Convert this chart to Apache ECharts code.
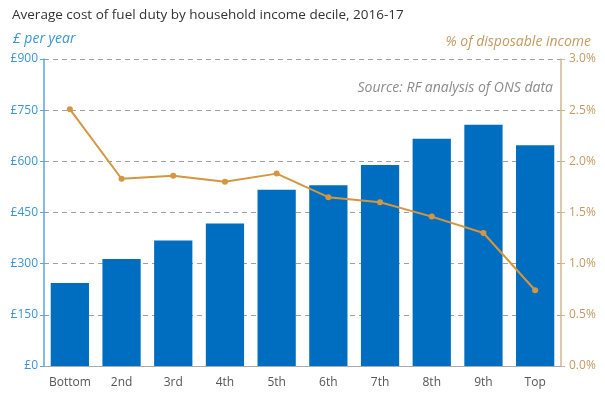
<!DOCTYPE html>
<html>
<head>
<meta charset="utf-8">
<script src="https://cdn.jsdelivr.net/npm/echarts@6/dist/echarts.min.js"></script>
<style>
  html, body { margin: 0; padding: 0; background: #fff; }
  #chart { width: 605px; height: 397px; }
</style>
</head>
<body>
<div id="chart"></div>
<script>
// deciles
const categories = ["Bottom", "2nd", "3rd", "4th", "5th", "6th", "7th", "8th", "9th", "Top"];
// £ per year
const costPerYear = [243, 314, 368, 418, 517, 530, 589, 666, 707, 647];
// % of disposable income
const pctIncome = [2.51, 1.83, 1.86, 1.80, 1.88, 1.65, 1.60, 1.46, 1.30, 0.74];
const leftTicks = [0, 150, 300, 450, 600, 750, 900];

const blue = "#006ec0";
const gold = "#d4963f";
const blueText = "#3c95d6";
const goldText = "#c49a62";
const font = "Open Sans";

const chart = echarts.init(document.getElementById("chart"));

const option = {
  animation: false,
  textStyle: { fontFamily: font },
  title: [
    {
      text: "Average cost of fuel duty by household income decile, 2016-17",
      left: 7, top: 3,
      textStyle: { fontFamily: font, fontSize: 13.5, fontWeight: "normal", color: "#333" }
    },
    {
      text: "£ per year",
      left: 8, top: 27,
      textStyle: { fontFamily: font, fontSize: 14, fontWeight: "normal", fontStyle: "italic", color: blueText }
    },
    {
      text: "% of disposable income",
      right: 9, top: 30,
      textStyle: { fontFamily: font, fontSize: 14, fontWeight: "normal", fontStyle: "italic", color: goldText }
    },
    {
      text: "Source: RF analysis of ONS data",
      right: 47, top: 76,
      textStyle: { fontFamily: font, fontSize: 14, fontWeight: "normal", fontStyle: "italic", color: "#8c8c8c" }
    }
  ],
  grid: { left: 44, right: 44, top: 59, bottom: 31 },
  xAxis: {
    type: "category",
    data: categories,
    axisLine: { lineStyle: { color: "#aaa", width: 1 } },
    axisTick: { show: false },
    axisLabel: { color: "#555", fontSize: 12, margin: 11, interval: 0, fontFamily: font }
  },
  yAxis: [
    {
      type: "value",
      min: leftTicks[0],
      max: leftTicks[leftTicks.length - 1],
      interval: 150,
      axisLine: { show: true, lineStyle: { color: "#5aa6de", width: 1.5 } },
      axisTick: { show: true, length: 4, lineStyle: { color: "#5aa6de" } },
      axisLabel: { color: blueText, fontSize: 12, margin: 6, formatter: v => "£" + v },
      splitLine: { show: true, lineStyle: { color: "#a0a0a0", type: [5, 4], width: 1 } }
    },
    {
      type: "value",
      min: 0,
      max: 3,
      interval: 0.5,
      axisLine: { show: true, lineStyle: { color: "#d2b68c", width: 1.5 } },
      axisTick: { show: true, length: 4, lineStyle: { color: "#d2b68c" } },
      axisLabel: { color: goldText, fontSize: 12, margin: 8, formatter: v => v.toFixed(1) + "%" },
      splitLine: { show: false }
    }
  ],
  series: [
    {
      name: "£ per year",
      type: "bar",
      yAxisIndex: 0,
      data: costPerYear,
      barWidth: "74%",
      itemStyle: { color: blue }
    },
    {
      name: "% of disposable income",
      type: "line",
      yAxisIndex: 1,
      data: pctIncome,
      symbol: "circle",
      symbolSize: 6,
      lineStyle: { color: gold, width: 2 },
      itemStyle: { color: gold }
    }
  ]
};

chart.setOption(option);
</script>
</body>
</html>
